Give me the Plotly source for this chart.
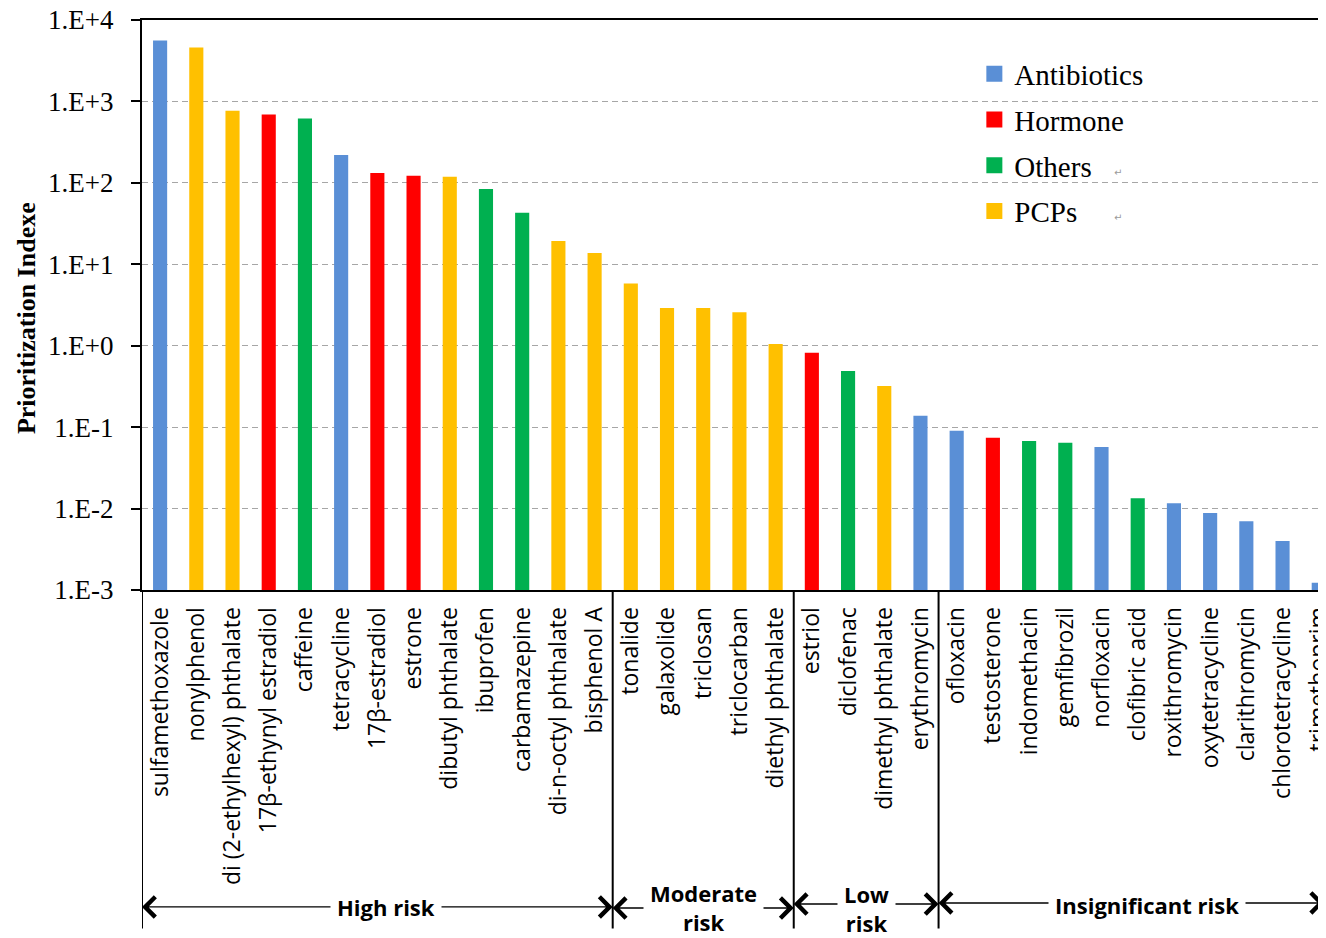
import plotly.graph_objects as go

# ---------------- data ----------------
compounds = [
    "sulfamethoxazole", "nonylphenol", "di (2-ethylhexyl) phthalate", "17β-ethynyl estradiol",
    "caffeine", "tetracycline", "17β-estradiol", "estrone", "dibutyl phthalate", "ibuprofen",
    "carbamazepine", "di-n-octyl phthalate", "bisphenol A",
    "tonalide", "galaxolide", "triclosan", "triclocarban", "diethyl phthalate",
    "estriol", "diclofenac", "dimethyl phthalate", "erythromycin",
    "ofloxacin", "testosterone", "indomethacin", "gemfibrozil", "norfloxacin", "clofibric acid",
    "roxithromycin", "oxytetracycline", "clarithromycin", "chlorotetracycline", "trimethoprim",
]
prioritization_index = [
    5600, 4600, 770, 690, 615, 220, 132, 122, 119, 84, 43, 19.3, 13.8,
    5.8, 2.9, 2.9, 2.57, 1.05,
    0.82, 0.49, 0.32, 0.138,
    0.090, 0.074, 0.0676, 0.0644, 0.057, 0.0134, 0.0116, 0.0088, 0.0070, 0.0040, 0.00123,
]
compound_class = [
    "Antibiotics", "PCPs", "PCPs", "Hormone", "Others", "Antibiotics", "Hormone", "Hormone",
    "PCPs", "Others", "Others", "PCPs", "PCPs",
    "PCPs", "PCPs", "PCPs", "PCPs", "PCPs",
    "Hormone", "Others", "PCPs", "Antibiotics",
    "Antibiotics", "Hormone", "Others", "Others", "Antibiotics", "Others",
    "Antibiotics", "Antibiotics", "Antibiotics", "Antibiotics", "Antibiotics",
]
class_names = ["Antibiotics", "Hormone", "Others", "PCPs"]
class_colors = {"Antibiotics": "#5A8FD6", "Hormone": "#FF0000", "Others": "#00B050", "PCPs": "#FFC000"}

risk_groups = ["High risk", "Moderate<br>risk", "Low<br>risk", "Insignificant risk"]
risk_group_sizes = [13, 5, 4, 11]

y_tick_vals = [1e-3, 1e-2, 1e-1, 1e0, 1e1, 1e2, 1e3, 1e4]
y_tick_text = ["1.E-3", "1.E-2", "1.E-1", "1.E+0", "1.E+1", "1.E+2", "1.E+3", "1.E+4"]

# ---------------- figure ----------------
fig = go.Figure()

for cls in class_names:
    xs = [c for c, k in zip(compounds, compound_class) if k == cls]
    ys = [v for v, k in zip(prioritization_index, compound_class) if k == cls]
    fig.add_trace(go.Bar(
        x=xs, y=ys, name=cls, marker_color=class_colors[cls], marker_line_width=0,
        width=0.39, showlegend=False,
    ))
    # legend proxy with larger square symbols
    fig.add_trace(go.Scatter(
        x=[None], y=[None], mode="markers", name=cls, legendgroup=cls,
        marker=dict(symbol="square", size=16, color=class_colors[cls]),
    ))

x_max = len(compounds) - 1 + 0.2

# group divider lines and arrows
boundaries = [-0.5]
for n in risk_group_sizes:
    boundaries.append(boundaries[-1] + n)
boundaries[-1] = x_max - 0.05

shapes = []
for b in boundaries[:-1]:
    shapes.append(dict(type="line", xref="x", yref="paper", x0=b, x1=b, y0=0, y1=-0.594,
                       line=dict(color="black", width=2)))

arrow_y = [-0.556, -0.558, -0.551, -0.549]
label_x = [6.25, 15.0, 19.5, 27.27]
label_y = [-0.556, -0.557, -0.558, -0.552]
annotations = []
for i, grp in enumerate(risk_groups):
    left, right = boundaries[i], boundaries[i + 1]
    for tip in (left, right):
        annotations.append(dict(
            x=tip, y=arrow_y[i], xref="x", yref="paper",
            ax=label_x[i], ay=0, axref="x", ayref="pixel",
            text="", showarrow=True, arrowhead=4, arrowsize=2.8, arrowwidth=1.4,
            arrowcolor="black", standoff=0, startstandoff=0,
        ))
for i, grp in enumerate(risk_groups):
    annotations.append(dict(
        x=label_x[i], y=label_y[i], xref="x", yref="paper", text="<b>" + grp + "</b>",
        xanchor="center", yanchor="middle",
        showarrow=False, bgcolor="white", borderpad=6,
        font=dict(family="Open Sans", size=22, color="black"), align="center",
    ))

# y-axis title
annotations.append(dict(
    x=-0.098, y=0.477, xref="paper", yref="paper", text="<b>Prioritization Indexe</b>",
    xanchor="center", yanchor="middle",
    textangle=-90, showarrow=False,
    font=dict(family="Liberation Serif", size=26, color="black"),
))

# small paragraph marks next to legend entries (as in the source figure)
for yy in (0.733, 0.654):
    annotations.append(dict(
        x=0.824, y=yy, xref="paper", yref="paper", text="↵", showarrow=False,
        xanchor="center", yanchor="middle",
        font=dict(family="DejaVu Sans", size=10, color="#9A9A9A"),
    ))

fig.update_layout(
    width=1318, height=930,
    margin=dict(l=134, r=0, t=12, b=348),
    plot_bgcolor="white", paper_bgcolor="white",
    barmode="overlay",
    shapes=shapes, annotations=annotations,
    legend=dict(
        x=0.703, y=0.950, xanchor="left", yanchor="top",
        font=dict(family="Liberation Serif", size=29, color="black"),
        bgcolor="rgba(0,0,0,0)", tracegroupgap=5, itemwidth=30,
    ),
)
fig.update_xaxes(
    type="category", categoryorder="array", categoryarray=compounds,
    range=[-0.5, x_max], automargin=False,
    showline=True, mirror=True, linecolor="black", linewidth=2,
    ticks="", tickangle=-90, ticklabelstandoff=6,
    tickfont=dict(family="Open Sans", size=23, color="black"),
    showgrid=False, zeroline=False,
)
fig.update_yaxes(
    type="log", range=[-3, 4], automargin=False,
    tickvals=y_tick_vals, ticktext=y_tick_text, ticklabeloverflow="allow",
    tickfont=dict(family="Liberation Serif", size=27, color="black"),
    ticks="outside", ticklen=9, tickwidth=2, tickcolor="black",
    ticklabelstandoff=12,
    showline=True, linecolor="black", linewidth=2,
    showgrid=True, gridcolor="#A6A6A6", gridwidth=1.3, griddash="6px,4px",
    zeroline=False,
)

fig.write_html("out.html")
